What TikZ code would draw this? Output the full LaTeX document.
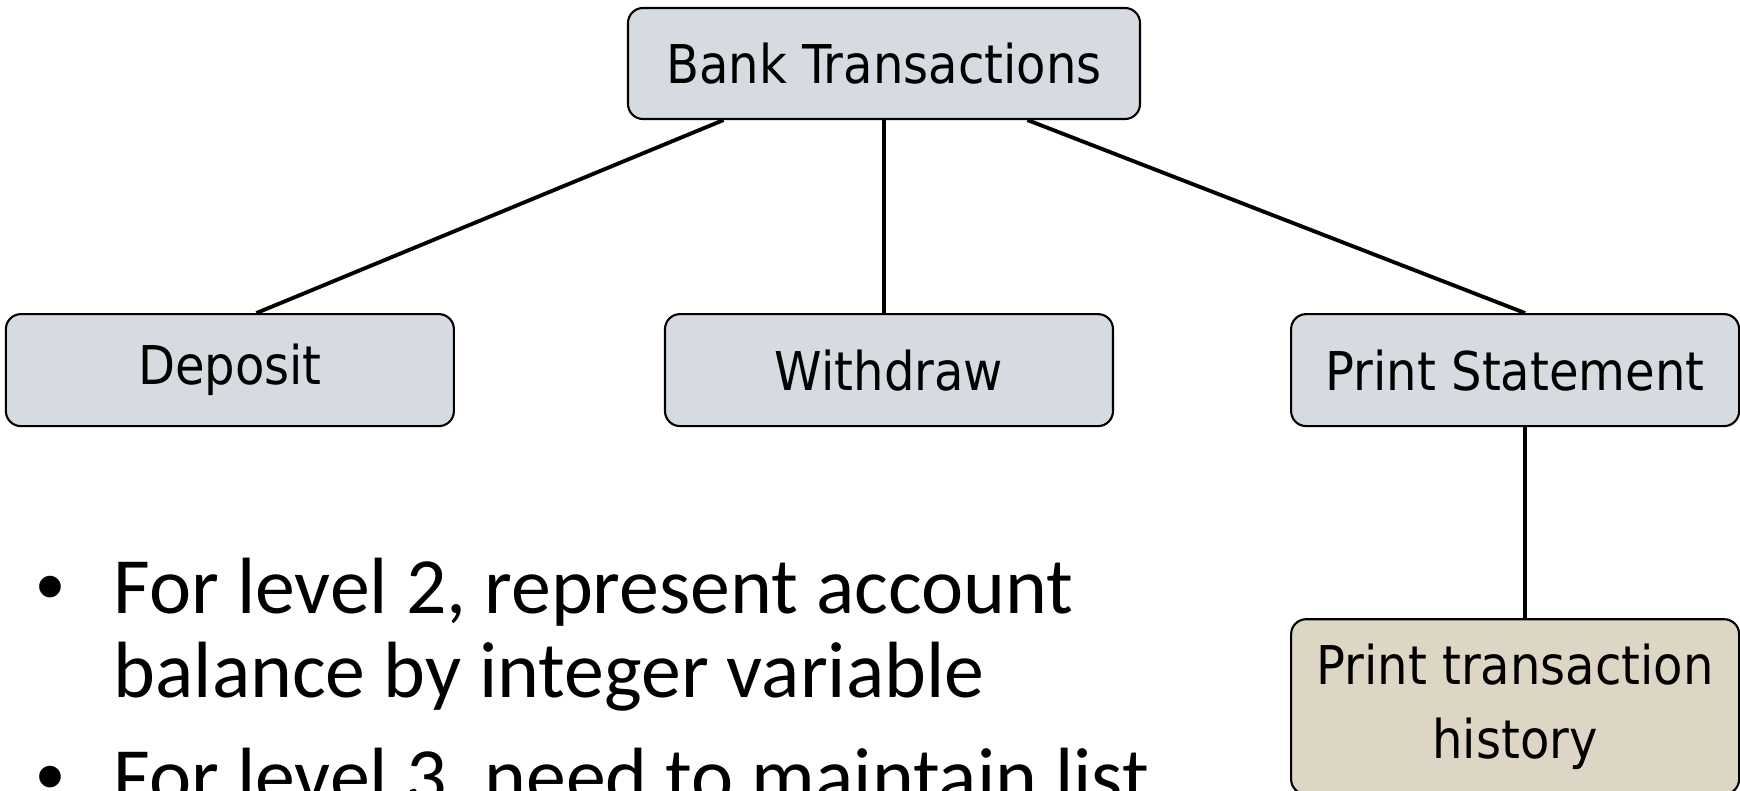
\documentclass[tikz,border=0pt]{standalone}
\usepackage{fontspec}
\setmainfont{Carlito}
\newfontfamily\boxfont{DejaVu Sans Condensed}
\newfontfamily\dotfont{Liberation Sans}
\usetikzlibrary{positioning}
\definecolor{boxgray}{RGB}{214,219,226}
\definecolor{boxtan}{RGB}{221,214,196}

\begin{document}
\begin{tikzpicture}[
    % Styles
    task/.style={draw=black, rectangle, rounded corners=0.15cm, align=center, minimum height=1.12cm, minimum width=4.48cm, fill=boxgray, line width=0.6pt, font=\boxfont\fontsize{15.2pt}{21.3pt}\selectfont},
    leaf/.style={task, fill=boxtan, minimum height=1.75cm},
    link/.style={line width=1.1pt},
    point/.style={anchor=base west, inner sep=0pt, font=\fontsize{22.7pt}{23.9pt}\selectfont},
    dot/.style={anchor=base, inner sep=0pt, font=\dotfont\fontsize{22.7pt}{23.9pt}\selectfont}
    ]
    \useasboundingbox (0,0) rectangle (17.4,-7.91);

    % Root of the hierarchy
    \node (bank) [task, minimum width=5.12cm, minimum height=1.11cm] at (8.84,-0.635) {Bank Transactions};

    % Level 2
    \node (withdraw) [task, below=1.93cm of bank, xshift=0.05cm] {Withdraw};
    \node (deposit) [task, left=2.09cm of withdraw] {Deposit};
    \node (statement) [task, right=1.76cm of withdraw] {Print Statement};

    % Level 3
    \node (history) [leaf, below=1.91cm of statement] {Print transaction\\history};

    % Connections
    \draw[link] ([xshift=-1.605cm]bank.south) -- ([xshift=0.265cm]deposit.north);
    \draw[link] (bank.south) -- (bank.south |- withdraw.north);
    \draw[link] ([xshift=1.435cm]bank.south) -- ([xshift=0.1cm]statement.north);
    \draw[link] ([xshift=0.1cm]statement.south) -- ([xshift=0.1cm]history.north);

    % Notes below the tree
    \node (pt1a) [point] at (1.13,-6.13) {For level 2, represent account};
    \node (pt1b) [point] at ([yshift=-0.84cm]pt1a.base west) {balance by integer variable};
    \node (pt2a) [point] at ([yshift=-1.9cm]pt1a.base west) {For level 3, need to maintain list};
    \node (dot1) [dot] at ([xshift=-0.63cm]pt1a.base west) {•};
    \node (dot2) [dot] at ([xshift=-0.63cm]pt2a.base west) {•};
\end{tikzpicture}
\end{document}
